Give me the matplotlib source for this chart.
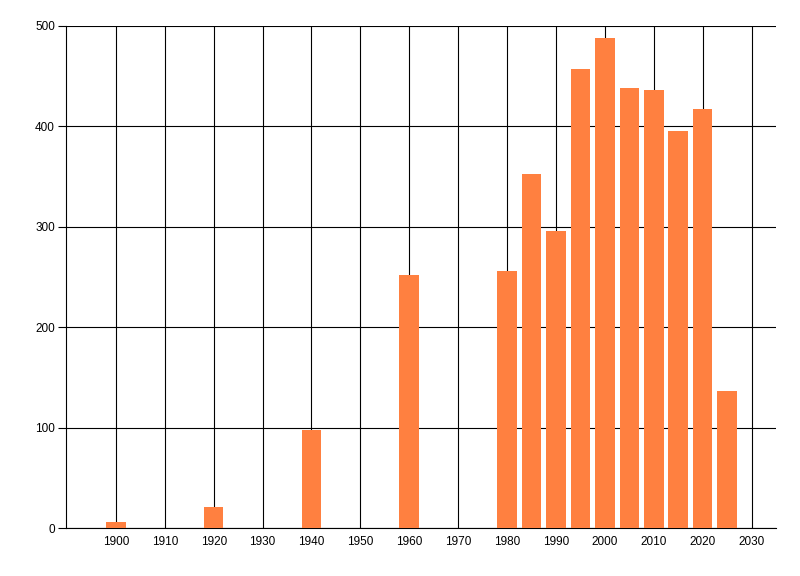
import matplotlib
matplotlib.use("Agg")
import matplotlib.pyplot as plt

years = [1900, 1920, 1940, 1960, 1980, 1985, 1990, 1995, 2000, 2005, 2010, 2015, 2020, 2025]
counts = [6, 21, 98, 252, 256, 353, 296, 457, 488, 438, 436, 395, 417, 136]
x_ticks = list(range(1900, 2031, 10))
y_ticks = [0, 100, 200, 300, 400, 500]

plt.rcParams['font.family'] = ['Liberation Sans', 'DejaVu Sans']

fig = plt.figure(figsize=(8, 5.76), dpi=100)
ax = fig.add_axes([0.0825, 0.0833, 0.8875, 0.8717])

ax.bar(years, counts, width=4, color='#FF8040', zorder=3)

ax.set_xlim(1889.8, 2035)
ax.set_ylim(0, 500)
ax.set_xticks(x_ticks)
ax.set_yticks(y_ticks)
ax.grid(True, color='black', linewidth=0.8, zorder=0)
ax.set_axisbelow(True)

for s in ['top', 'right']:
    ax.spines[s].set_visible(False)
for s in ['left', 'bottom']:
    ax.spines[s].set_color('black')
    ax.spines[s].set_linewidth(0.8)

ax.tick_params(axis='x', length=0, pad=6, labelsize=8.5, colors='black')
ax.tick_params(axis='y', length=6, width=0.8, pad=2, labelsize=8.5, colors='black')

fig.savefig('out.png', dpi=100)
